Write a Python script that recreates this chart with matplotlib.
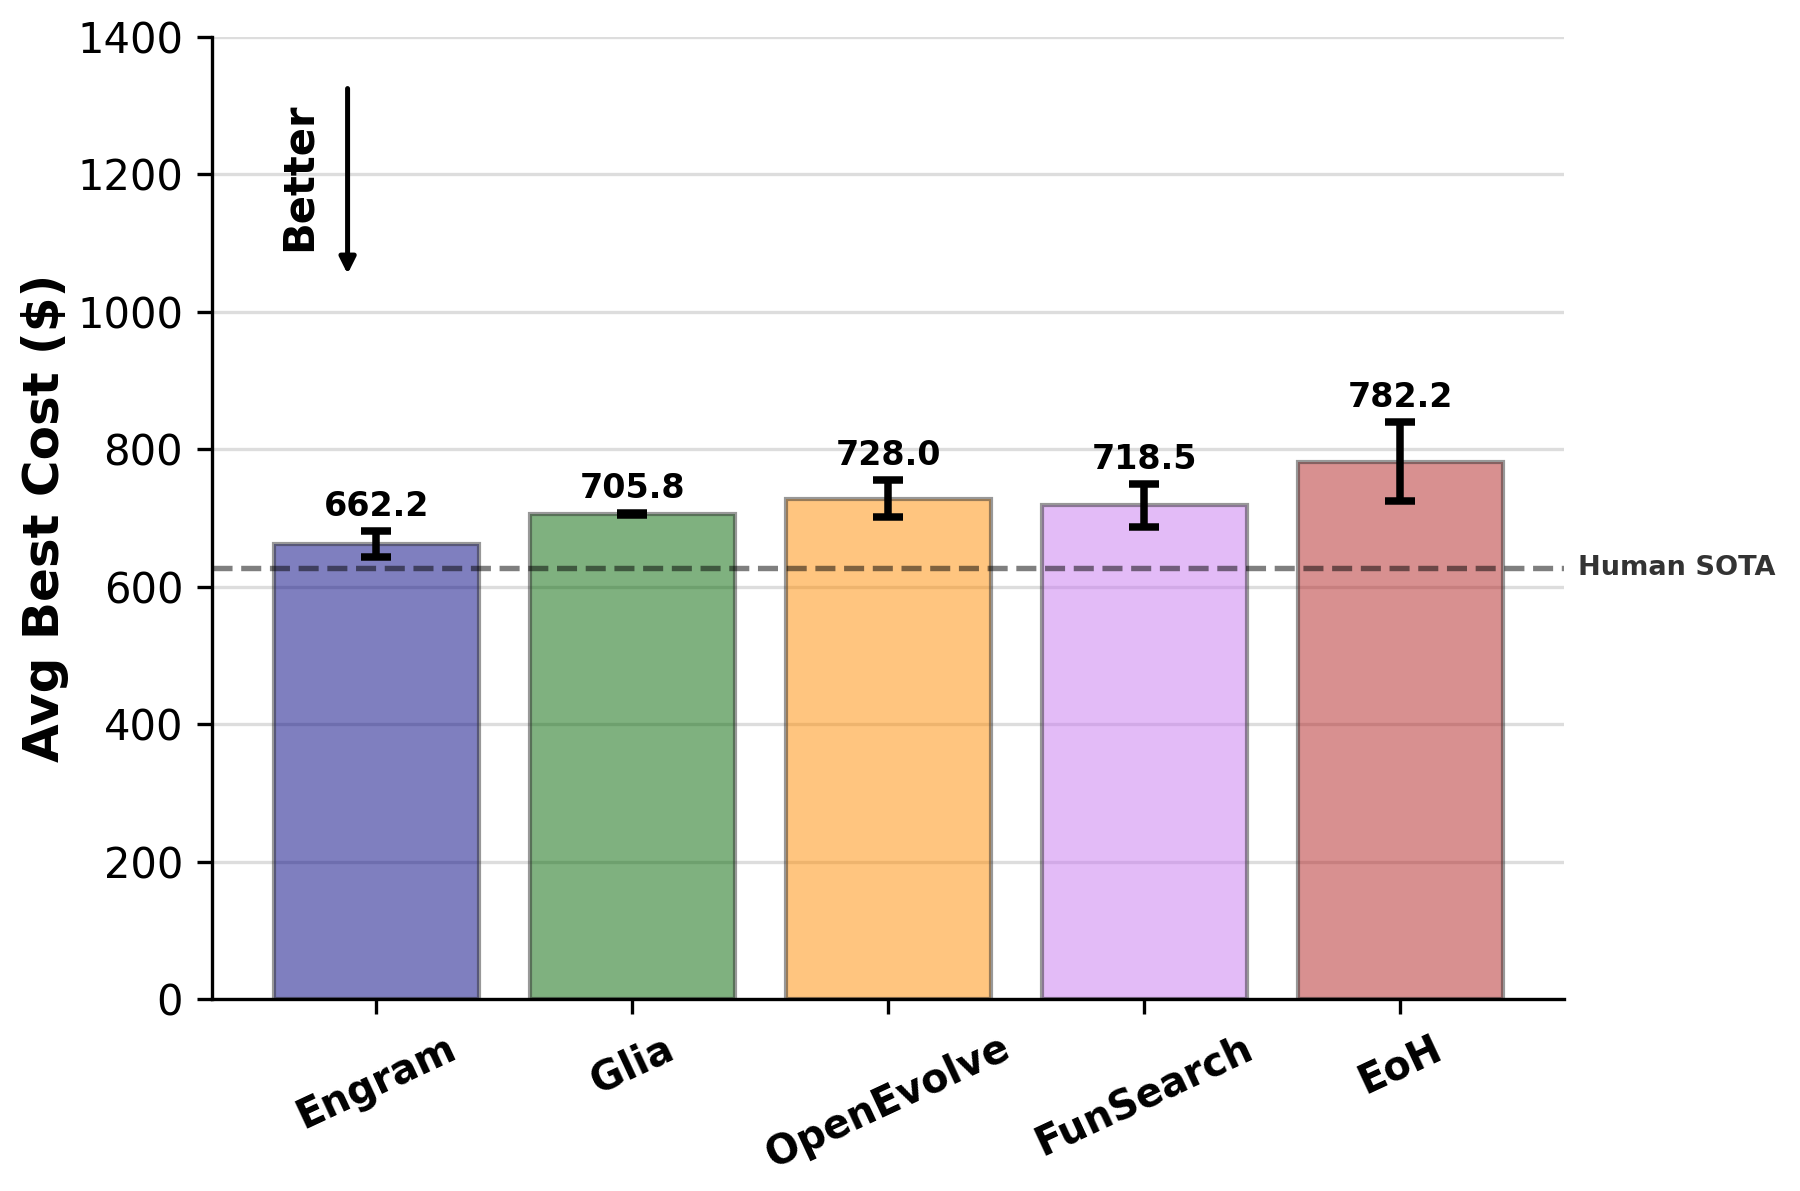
import matplotlib
matplotlib.use("Agg")
import matplotlib.pyplot as plt
import matplotlib.transforms as mtransforms

# data
methods = ['Engram', 'Glia', 'OpenEvolve', 'FunSearch', 'EoH']
avg_cost = [662.2, 705.8, 728.0, 718.5, 782.2]
std_cost = [18.5, 1.5, 27.0, 31.0, 57.5]
human_sota = 627.0
colors = ['navy', 'darkgreen', 'darkorange', '#c979f1', 'firebrick']

fig, ax = plt.subplots(figsize=(6, 3.97), dpi=300)

x = list(range(len(methods)))
ax.bar(x, avg_cost, width=0.8, color=colors, alpha=0.5,
       edgecolor='#333333', linewidth=1.0, zorder=2)
ax.errorbar(x, avg_cost, yerr=std_cost, fmt='none', ecolor='black',
            elinewidth=1.8, capsize=3.5, capthick=1.8, zorder=3)

# value labels above error bars
for xi, m, s in zip(x, avg_cost, std_cost):
    ax.text(xi, m + s + 12, f'{m:.1f}', ha='center', va='bottom',
            fontsize=8, fontweight='bold')

# human SOTA reference
ax.axhline(human_sota, color='black', linestyle='--', linewidth=1.3,
           alpha=0.5, zorder=4)
trans = mtransforms.blended_transform_factory(ax.transAxes, ax.transData)
ax.text(1.01, human_sota, 'Human SOTA', transform=trans, ha='left',
        va='center', fontsize=6.5, fontweight='bold', color='#333333')

# "lower is better" arrow
ax.annotate('', xy=(0.1, 0.745), xytext=(0.1, 0.955), xycoords='axes fraction',
            arrowprops=dict(arrowstyle='-|>', color='black', lw=1.2,
                            mutation_scale=8))
ax.text(0.064, 0.855, 'Better', transform=ax.transAxes, rotation=90,
        ha='center', va='center', fontsize=10, fontweight='bold')

ax.set_ylim(0, 1400)
ax.set_yticks(range(0, 1401, 200))
ax.set_ylabel('Avg Best Cost ($)', fontsize=12, fontweight='bold', labelpad=2)
ax.set_xticks(x)
ax.set_xticklabels(methods, rotation=25, ha='center', fontsize=9.5,
                   fontweight='bold')
ax.tick_params(axis='y', labelsize=10)

ax.grid(axis='y', color='#dddddd', linewidth=0.8, zorder=0)
ax.set_axisbelow(True)
ax.spines['top'].set_visible(False)
ax.spines['right'].set_visible(False)

fig.subplots_adjust(left=0.118, right=0.869, top=0.969, bottom=0.161)
fig.savefig('out.png', dpi=300)
